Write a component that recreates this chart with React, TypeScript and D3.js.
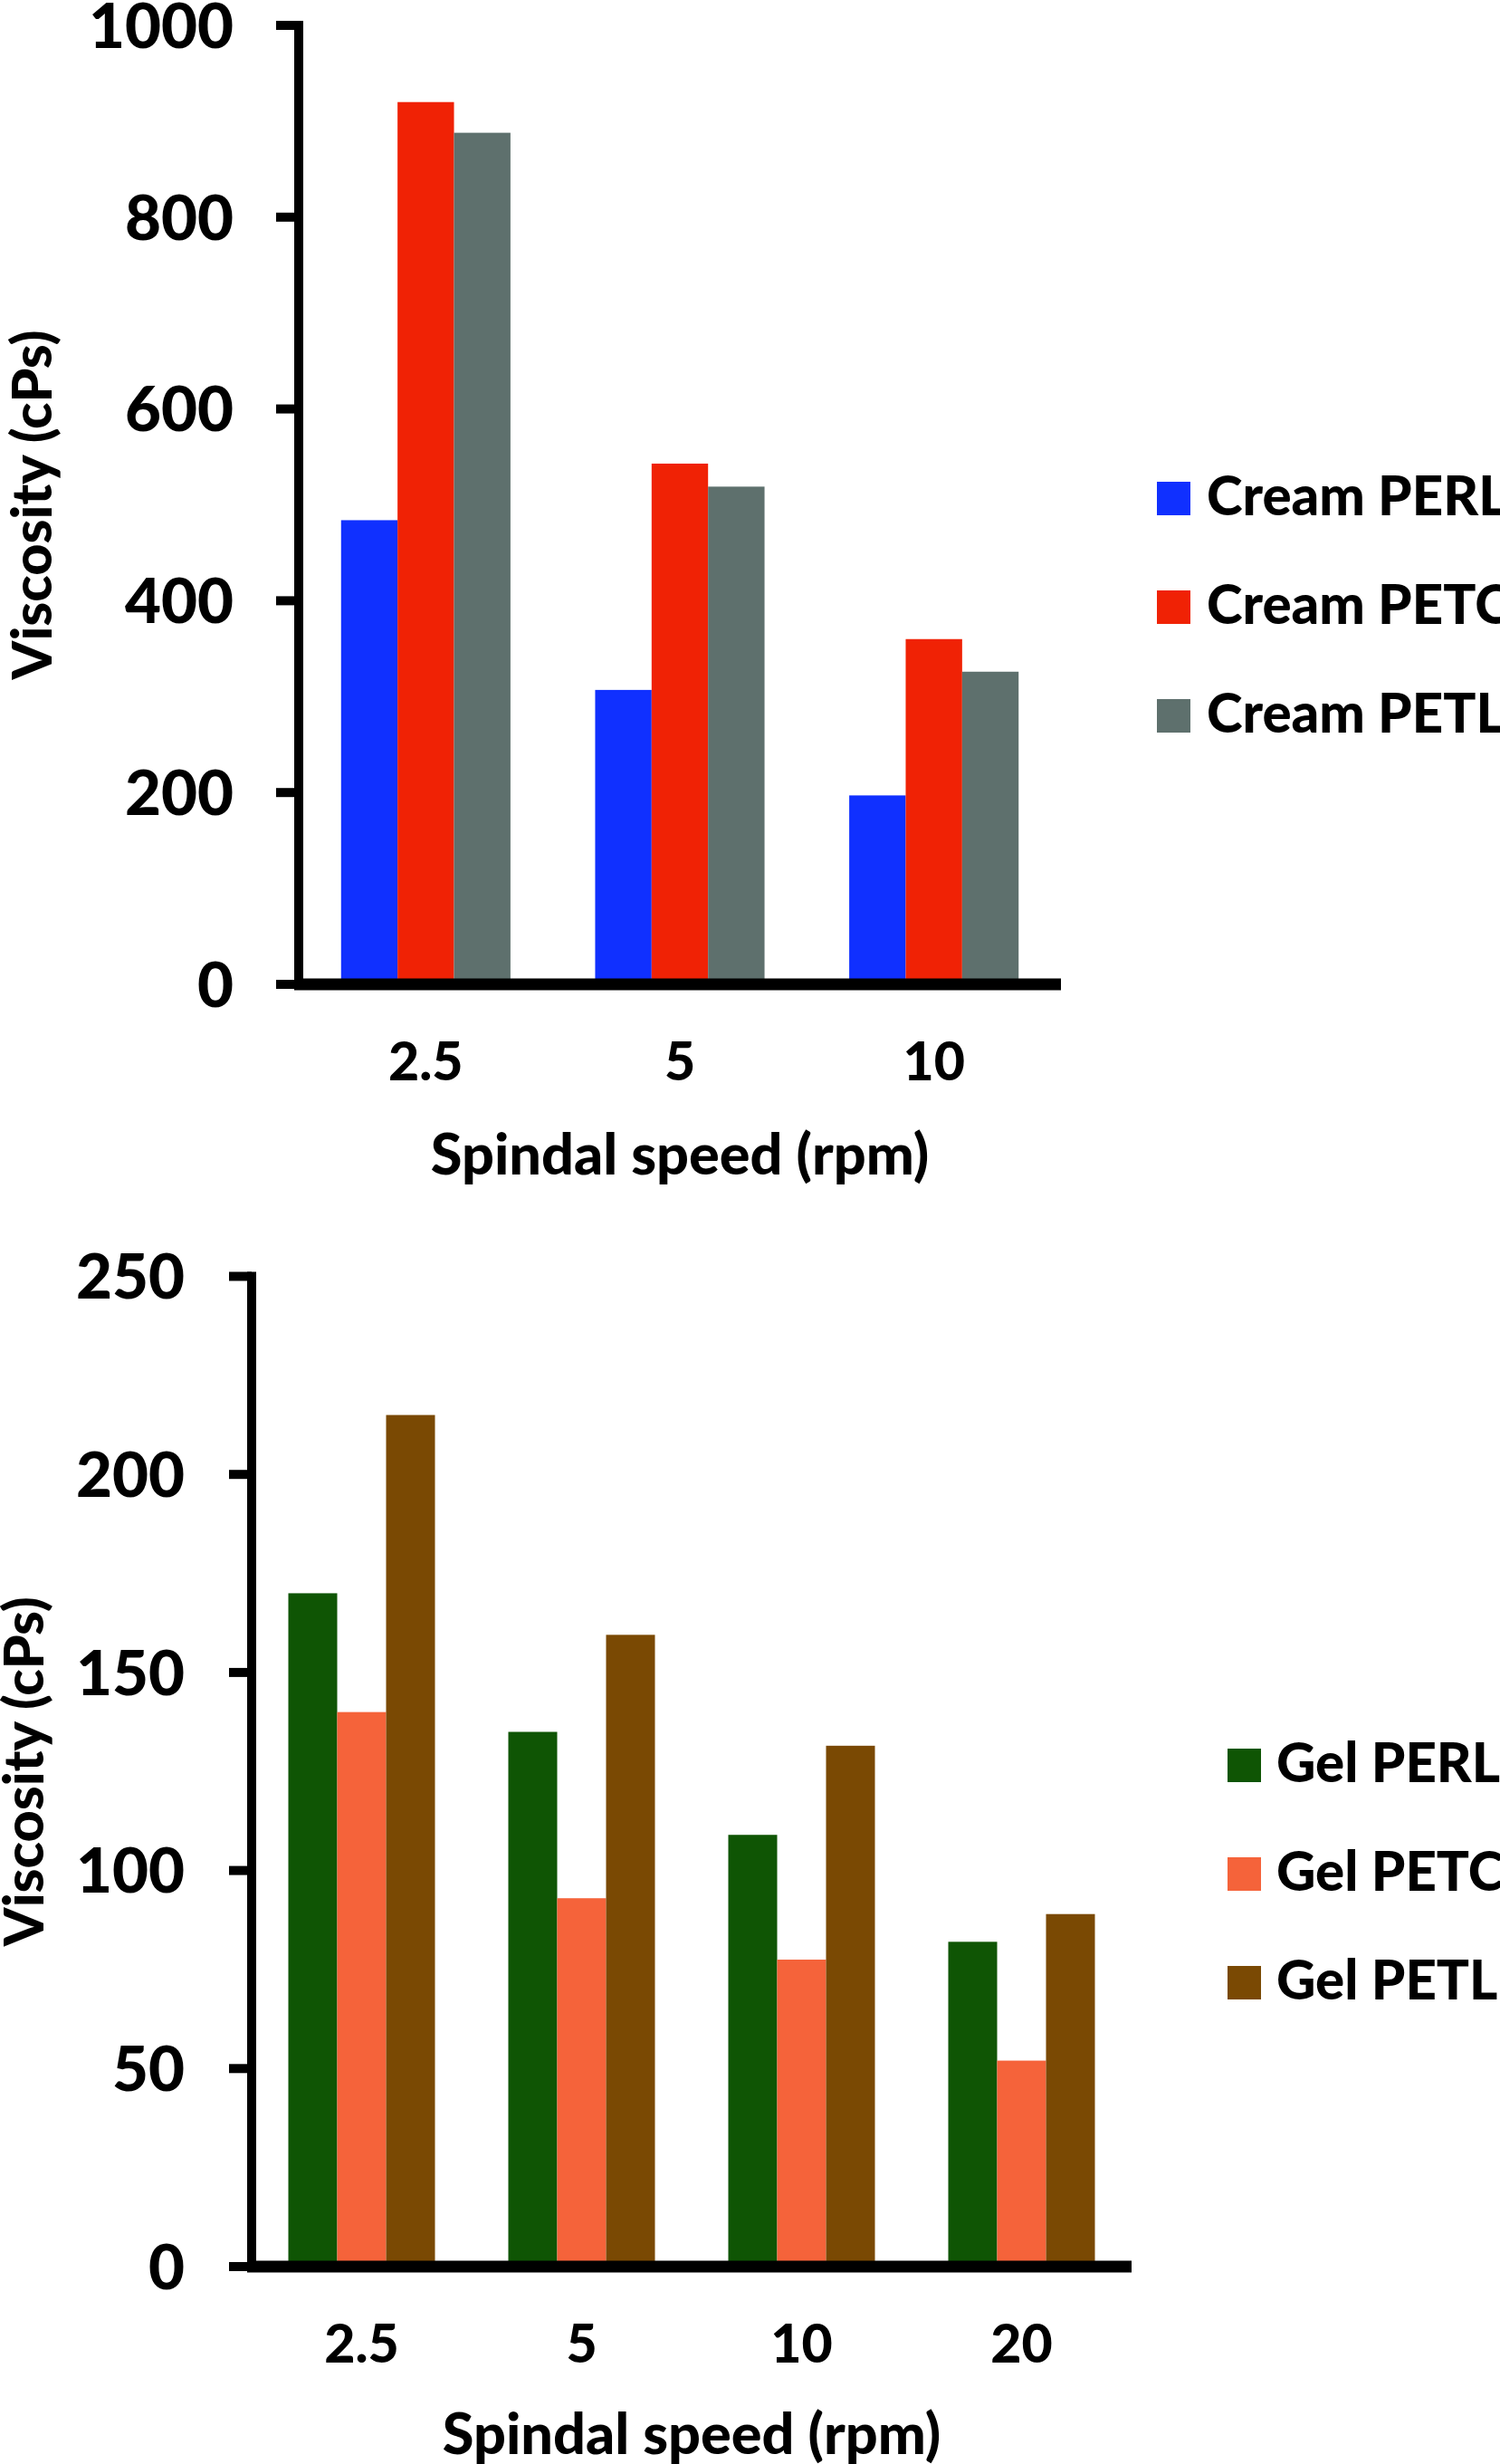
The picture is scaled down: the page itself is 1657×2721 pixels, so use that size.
import React from "react";
import * as d3 from "d3";

// ---------- data ----------
const creamSpeeds = ["2.5", "5", "10"];
const creamSeries = ["Cream PERL", "Cream PETC", "Cream PETL"];
const creamPERL = [484, 307, 197];
const creamPETC = [920, 543, 360];
const creamPETL = [888, 519, 326];
const creamColors = ["#1030FF", "#F02205", "#5E706D"];
const creamTicks = [0, 200, 400, 600, 800, 1000];

const gelSpeeds = ["2.5", "5", "10", "20"];
const gelSeries = ["Gel PERL", "Gel PETC", "Gel PETL"];
const gelPERL = [170, 135, 109, 82];
const gelPETC = [140, 93, 77.5, 52];
const gelPETL = [215, 159.5, 131.5, 89];
const gelColors = ["#0F5504", "#F5633A", "#7A4903"];
const gelTicks = [0, 50, 100, 150, 200, 250];

const yTitle = "Viscosity (cPs)";
const xTitle = "Spindal speed (rpm)";

const FONT = "Lato, 'Open Sans', sans-serif";
const WEIGHT = 900;

type PanelProps = {
  cats: string[];
  seriesNames: string[];
  values: number[][];
  colors: string[];
  ticks: number[];
  yMax: number;
  axisX: number;
  axisEnd: number;
  yTop: number;
  yBottom: number;
  tickLabelRight: number;
  xLabelBaseline: number;
  xTitleBaseline: number;
  yTitleX: number;
  legendSquareX: number;
  legendTextX: number;
  legendFirstBaseline: number;
};

function Panel(p: PanelProps) {
  const y = d3.scaleLinear().domain([0, p.yMax]).range([p.yBottom, p.yTop]);
  const x0 = d3
    .scaleBand<string>()
    .domain(p.cats)
    .range([p.axisX, p.axisEnd])
    .paddingInner(1 / 3)
    .paddingOuter(1 / 6);
  const x1 = d3
    .scaleBand<string>()
    .domain(p.seriesNames)
    .range([0, x0.bandwidth()]);
  const sq = 37;
  return (
    <g>
      {p.cats.map((c, ci) =>
        p.seriesNames.map((s, si) => (
          <rect
            key={c + s}
            x={(x0(c) as number) + (x1(s) as number)}
            y={y(p.values[si][ci])}
            width={x1.bandwidth()}
            height={y(0) - y(p.values[si][ci])}
            fill={p.colors[si]}
          />
        ))
      )}
      <line x1={p.axisX} x2={p.axisX} y1={p.yTop - 5} y2={p.yBottom} stroke="#000" strokeWidth={10} />
      {p.ticks.map((t) => (
        <g key={t}>
          <line x1={p.axisX - 25} x2={p.axisX} y1={y(t)} y2={y(t)} stroke="#000" strokeWidth={10} />
          <text
            x={p.tickLabelRight}
            y={y(t)}
            dy="0.36em"
            textAnchor="end"
            fontSize={69}
            fontWeight={WEIGHT}
            fontFamily={FONT}
          >
            {t}
          </text>
        </g>
      ))}
      <line x1={p.axisX - 5} x2={p.axisEnd} y1={y(0)} y2={y(0)} stroke="#000" strokeWidth={13} />
      {p.cats.map((c) => (
        <text
          key={c}
          x={(x0(c) as number) + x0.bandwidth() / 2}
          y={p.xLabelBaseline}
          textAnchor="middle"
          fontSize={59}
          fontWeight={WEIGHT}
          fontFamily={FONT}
        >
          {c}
        </text>
      ))}
      <text
        x={(p.axisX + p.axisEnd) / 2}
        y={p.xTitleBaseline}
        textAnchor="middle"
        fontSize={63}
        fontWeight={WEIGHT}
        fontFamily={FONT}
      >
        {xTitle}
      </text>
      <text
        transform={`translate(${p.yTitleX},${(p.yTop + p.yBottom) / 2}) rotate(-90)`}
        textAnchor="middle"
        fontSize={61}
        fontWeight={WEIGHT}
        fontFamily={FONT}
      >
        {yTitle}
      </text>
      {p.seriesNames.map((s, i) => (
        <g key={s}>
          <rect
            x={p.legendSquareX}
            y={p.legendFirstBaseline + i * 120 - sq}
            width={sq}
            height={sq}
            fill={p.colors[i]}
          />
          <text
            x={p.legendTextX}
            y={p.legendFirstBaseline + i * 120}
            fontSize={60}
            fontWeight={WEIGHT}
            fontFamily={FONT}
          >
            {s}
          </text>
        </g>
      ))}
    </g>
  );
}

export default function App() {
  return (
    <svg
      width={1657}
      height={2721}
      style={{ position: "absolute", left: 0, top: 0, display: "block", background: "#fff" }}
    >
      <rect width={1657} height={2721} fill="#fff" />
      <Panel
        cats={creamSpeeds}
        seriesNames={creamSeries}
        values={[creamPERL, creamPETC, creamPETL]}
        colors={creamColors}
        ticks={creamTicks}
        yMax={1000}
        axisX={330}
        axisEnd={1172}
        yTop={28}
        yBottom={1087}
        tickLabelRight={258}
        xLabelBaseline={1193}
        xTitleBaseline={1297}
        yTitleX={57}
        legendSquareX={1278}
        legendTextX={1333}
        legendFirstBaseline={569}
      />
      <Panel
        cats={gelSpeeds}
        seriesNames={gelSeries}
        values={[gelPERL, gelPETC, gelPETL]}
        colors={gelColors}
        ticks={gelTicks}
        yMax={250}
        axisX={278}
        axisEnd={1250}
        yTop={1409.5}
        yBottom={2503}
        tickLabelRight={204}
        xLabelBaseline={2609}
        xTitleBaseline={2710}
        yTitleX={48}
        legendSquareX={1356}
        legendTextX={1410}
        legendFirstBaseline={1968}
      />
    </svg>
  );
}
